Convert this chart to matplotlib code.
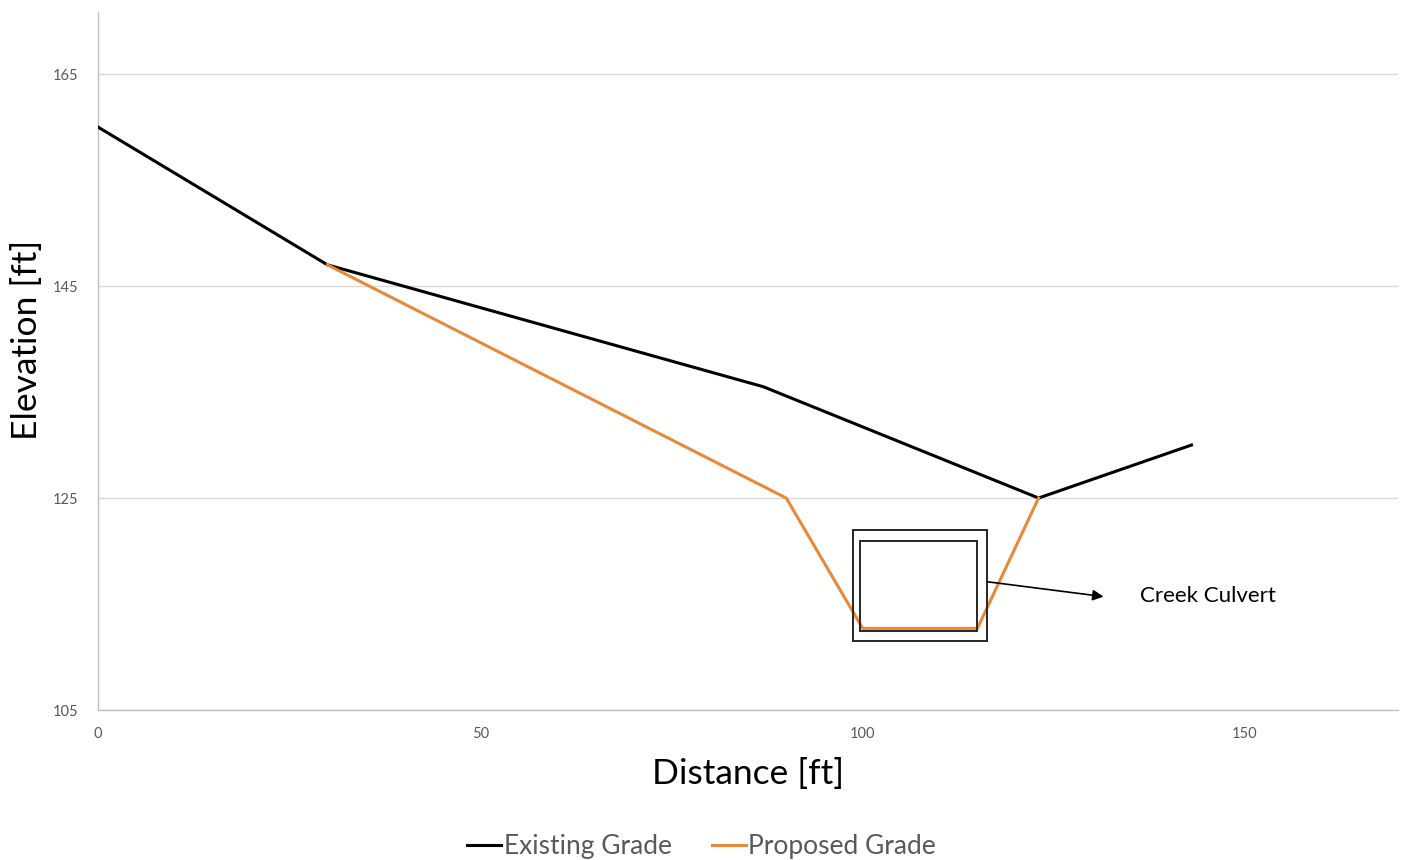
import matplotlib
matplotlib.use("Agg")
import matplotlib.pyplot as plt
from matplotlib.patches import Rectangle
from matplotlib.lines import Line2D

plt.rcParams['font.family'] = ['Lato', 'DejaVu Sans']

# Existing ground profile
existing_x = [0, 30, 87, 123, 143]
existing_y = [160, 147, 135.5, 125, 130]

# Proposed grade profile
proposed_x = [30, 90, 100, 115, 123]
proposed_y = [147, 125, 112.7, 112.7, 125]

# Culvert outline (outer and inner box): x0, y0, x1, y1
culvert_outer = [98.7, 111.5, 116.3, 122.0]
culvert_inner = [99.7, 112.5, 114.9, 120.9]

x_ticks = [0, 50, 100, 150]
y_ticks = [105, 125, 145, 165]

fig = plt.figure(figsize=(14.06, 8.6), dpi=100)
ax = fig.add_axes([0.0697, 0.1744, 0.9246, 0.8116])

ax.set_xlim(0, 170)
ax.set_ylim(105, 170.85)

ax.set_xticks(x_ticks)
ax.set_yticks(y_ticks)
ax.yaxis.grid(True, color='#d9d9d9', linewidth=1.0)
ax.set_axisbelow(True)
ax.tick_params(axis='both', length=0, labelsize=10.5, labelcolor='#595959')
ax.tick_params(axis='x', pad=12.5)
ax.tick_params(axis='y', pad=14)

for side in ['top', 'right']:
    ax.spines[side].set_visible(False)
for side in ['left', 'bottom']:
    ax.spines[side].set_color('#bfbfbf')
    ax.spines[side].set_linewidth(1.0)

ax.plot(existing_x, existing_y, color='black', linewidth=2.2, solid_joinstyle='round', zorder=3)
ax.plot(proposed_x, proposed_y, color='#e8893a', linewidth=2.2, solid_joinstyle='round', zorder=3)

for box in (culvert_outer, culvert_inner):
    x0, y0, x1, y1 = box
    ax.add_patch(Rectangle((x0, y0), x1 - x0, y1 - y0, fill=False,
                           edgecolor='#262626', linewidth=1.4, zorder=4))

ax.annotate('', xy=(131.5, 115.7), xytext=(culvert_outer[2], 117.1),
            arrowprops=dict(arrowstyle='-|>', color='black', lw=1.2,
                            mutation_scale=16, shrinkA=0, shrinkB=0), zorder=5)
ax.text(136.2, 115.8, 'Creek Culvert', fontsize=16, color='black', va='center', ha='left')

ax.set_xlabel('Distance [ft]', fontsize=25.5, color='black', labelpad=12)
ax.set_ylabel('Elevation [ft]', fontsize=25.5, color='black', va='center')
ax.yaxis.set_label_coords(-0.0545, 0.53)

handles = [Line2D([], [], color='black', linewidth=2.2),
           Line2D([], [], color='#e8893a', linewidth=2.2)]
leg = fig.legend(handles, ['Existing Grade', 'Proposed Grade'], loc='center',
                 bbox_to_anchor=(0.499, 0.016), ncol=2, frameon=False, fontsize=19,
                 handlelength=1.3, handletextpad=0.1, columnspacing=1.5)
for t in leg.get_texts():
    t.set_color('#595959')

fig.savefig('out.png', dpi=100)
